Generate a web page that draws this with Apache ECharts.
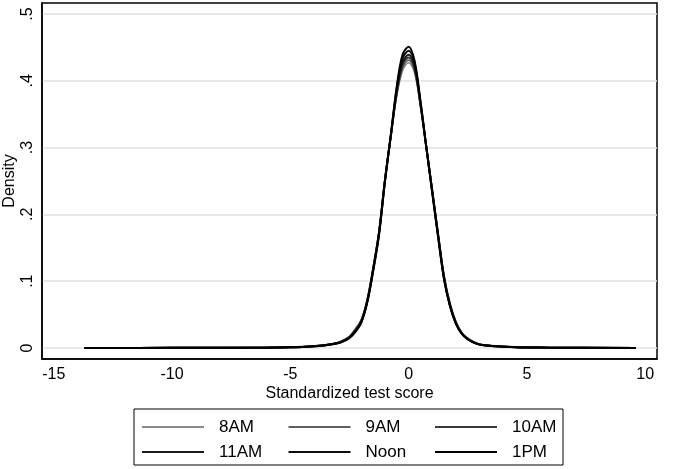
<!DOCTYPE html>
<html>
<head>
<meta charset="utf-8">
<script src="https://cdn.jsdelivr.net/npm/echarts@6/dist/echarts.min.js"></script>
<style>html,body{margin:0;padding:0;background:#fff;}#c{width:677px;height:469px;}</style>
</head>
<body>
<div id="c"></div>
<script>
// Score grid (standardized test score)
var scores = [-13.7, -10, -6, -5, -4.5, -4, -3.5, -3, -2.75, -2.5, -2.25, -2, -1.75, -1.5, -1.25, -1, -0.75, -0.5, -0.25, 0, 0.25, 0.5, 0.75, 1, 1.25, 1.5, 1.75, 2, 2.25, 2.5, 2.75, 3, 3.5, 4, 4.5, 5, 6, 9.6];

// Estimated kernel densities per time slot
var d8AM  = [0, 0.0003, 0.0006, 0.0012, 0.0019, 0.003, 0.0048, 0.008, 0.012, 0.0175, 0.029, 0.043, 0.073, 0.121, 0.176, 0.254, 0.318, 0.378, 0.416, 0.427, 0.412, 0.362, 0.302, 0.237, 0.171, 0.108, 0.067, 0.040, 0.023, 0.015, 0.0092, 0.0058, 0.0034, 0.0022, 0.0014, 0.0009, 0.0004, 0];
var d9AM  = [0, 0.0003, 0.0006, 0.0012, 0.0018, 0.0029, 0.0046, 0.0078, 0.0115, 0.017, 0.028, 0.042, 0.072, 0.120, 0.175, 0.253, 0.318, 0.380, 0.420, 0.431, 0.415, 0.363, 0.301, 0.236, 0.170, 0.107, 0.066, 0.039, 0.023, 0.014, 0.009, 0.0056, 0.0033, 0.0022, 0.0014, 0.0009, 0.0004, 0];
var d10AM = [0, 0.0002, 0.0006, 0.0011, 0.0017, 0.0028, 0.0045, 0.0076, 0.011, 0.0165, 0.027, 0.041, 0.071, 0.119, 0.174, 0.252, 0.318, 0.382, 0.424, 0.435, 0.418, 0.364, 0.300, 0.235, 0.169, 0.106, 0.065, 0.038, 0.022, 0.014, 0.0088, 0.0054, 0.0032, 0.0021, 0.0013, 0.0009, 0.0004, 0];
var d11AM = [0, 0.0002, 0.0005, 0.0011, 0.0016, 0.0027, 0.0043, 0.0074, 0.011, 0.016, 0.026, 0.040, 0.070, 0.118, 0.173, 0.251, 0.318, 0.385, 0.428, 0.439, 0.421, 0.366, 0.300, 0.234, 0.168, 0.105, 0.064, 0.037, 0.022, 0.013, 0.0085, 0.0052, 0.0031, 0.002, 0.0013, 0.0008, 0.0004, 0];
var dNoon = [0, 0.0002, 0.0005, 0.001, 0.0016, 0.0026, 0.0042, 0.0072, 0.0105, 0.0155, 0.025, 0.039, 0.069, 0.116, 0.171, 0.250, 0.319, 0.389, 0.434, 0.445, 0.426, 0.368, 0.300, 0.233, 0.166, 0.103, 0.063, 0.037, 0.021, 0.013, 0.008, 0.005, 0.003, 0.002, 0.0012, 0.0008, 0.0004, 0];
var d1PM  = [0, 0.0002, 0.0005, 0.001, 0.0015, 0.0025, 0.004, 0.007, 0.010, 0.015, 0.024, 0.038, 0.068, 0.115, 0.170, 0.250, 0.320, 0.392, 0.440, 0.451, 0.430, 0.370, 0.300, 0.232, 0.165, 0.102, 0.062, 0.036, 0.021, 0.013, 0.008, 0.005, 0.003, 0.002, 0.0012, 0.0008, 0.0004, 0];

var seriesNames = ['8AM', '9AM', '10AM', '11AM', 'Noon', '1PM'];
var seriesData = [d8AM, d9AM, d10AM, d11AM, dNoon, d1PM];
var seriesColors = ['#8a8a8a', '#606060', '#3a3a3a', '#1a1a1a', '#0d0d0d', '#000000'];

var xTicks = [-15, -10, -5, 0, 5, 10];
var yTicks = [0, 0.1, 0.2, 0.3, 0.4, 0.5];
var yTickLabels = ['0', '.1', '.2', '.3', '.4', '.5'];

var font = 'Liberation Sans, Arial, sans-serif';

var series = seriesNames.map(function (n, i) {
  return {
    name: n,
    type: 'line',
    symbol: 'none',
    smooth: 0.35,
    color: seriesColors[i],
    lineStyle: { color: seriesColors[i], width: i < 2 ? 1.6 : 2 },
    data: scores.map(function (x, k) { return [x, seriesData[i][k]]; }),
    z: 2 + i
  };
});

var legendData = seriesNames.map(function (n, i) {
  return { name: n, textStyle: { width: (i % 3 === 2) ? 45 : 64.5 } };
});

var chart = echarts.init(document.getElementById('c'), null, { renderer: 'canvas' });
chart.setOption({
  animation: false,
  backgroundColor: '#ffffff',
  grid: {
    left: 42, right: 20, top: 3, bottom: 110,
    outerBoundsMode: 'none',
    containLabel: false,
    show: true, borderColor: '#000', borderWidth: 1.5, backgroundColor: '#fff'
  },
  xAxis: {
    type: 'value',
    min: -15.5, max: 10.5,
    name: 'Standardized test score',
    nameLocation: 'middle',
    nameGap: 27,
    nameMoveOverlap: false,
    nameTextStyle: { fontFamily: font, fontSize: 16, color: '#000' },
    axisLine: { show: true, onZero: false, lineStyle: { color: '#000', width: 1.5 } },
    axisTick: { show: false, customValues: xTicks },
    axisLabel: { customValues: xTicks, fontFamily: font, fontSize: 16, color: '#000', margin: 8 },
    splitLine: { show: false }
  },
  yAxis: {
    type: 'value',
    min: -0.0165, max: 0.5165,
    name: 'Density',
    nameLocation: 'middle',
    nameGap: 24,
    nameMoveOverlap: false,
    nameRotate: 90,
    nameTextStyle: { fontFamily: font, fontSize: 16, color: '#000' },
    axisLine: { show: true, onZero: false, lineStyle: { color: '#000', width: 1.5 } },
    axisTick: { show: false, customValues: yTicks },
    axisLabel: {
      customValues: yTicks, rotate: 90, fontFamily: font, fontSize: 16, color: '#000', margin: 6,
      formatter: function (v) {
        var idx = yTicks.findIndex(function (t) { return Math.abs(t - v) < 1e-9; });
        return idx >= 0 ? yTickLabels[idx] : '';
      }
    },
    splitLine: { show: true, lineStyle: { color: '#dae4e5', width: 1.5 } }
  },
  legend: {
    show: true,
    data: legendData,
    left: 134, top: 409, width: 440,
    orient: 'horizontal',
    padding: [8, 6, 3, 8],
    itemGap: 5,
    icon: 'rect',
    itemWidth: 62, itemHeight: 2,
    borderColor: '#000', borderWidth: 1,
    textStyle: { fontFamily: font, fontSize: 17, color: '#000', lineHeight: 20, padding: [0, 0, 0, 10] }
  },
  series: series
});
</script>
</body>
</html>
